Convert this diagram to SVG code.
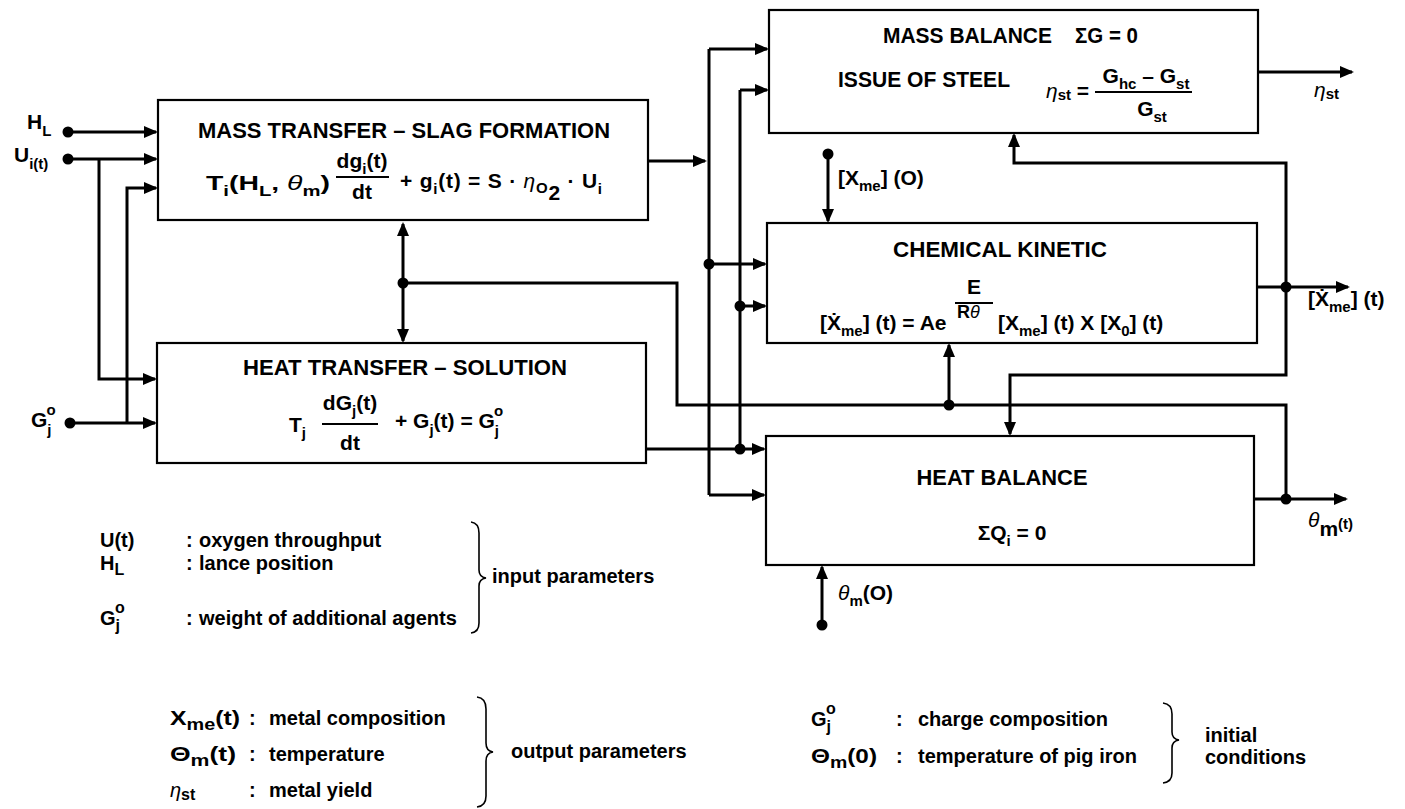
<svg xmlns="http://www.w3.org/2000/svg" width="1405" height="809" viewBox="0 0 1405 809">
<style>
.b{font-family:"Liberation Sans",Arial,sans-serif;font-weight:bold;font-size:22px;fill:#000}
.f{font-family:"Liberation Sans",Arial,sans-serif;font-weight:bold;font-size:21px;fill:#000}
.l{font-family:"Liberation Sans",Arial,sans-serif;font-weight:bold;font-size:20px;fill:#000}
.s{font-size:15px}
.ls{font-size:16px}
.g{font-style:italic;font-weight:normal}
.box{fill:#fff;stroke:#000;stroke-width:2.2}
.c{fill:none;stroke:#000;stroke-width:3}
.a{fill:none;stroke:#000;stroke-width:3;marker-end:url(#ah)}
.fr{stroke:#000;stroke-width:2}
.br{fill:none;stroke:#000;stroke-width:1.6}
</style>
<defs>
<marker id="ah" viewBox="0 0 14 12" refX="12" refY="6" markerWidth="14" markerHeight="12" markerUnits="userSpaceOnUse" orient="auto"><path d="M0,0 L14,6 L0,12 z" fill="#000"/></marker>
</defs>
<rect width="1405" height="809" fill="#fff"/>

<g id="connectors">
<path class="a" d="M68,132 H156"/>
<path class="a" d="M68,159 H156"/>
<path class="a" d="M99,159 V379 H155"/>
<path class="a" d="M70,423 H155"/>
<path class="a" d="M127,423 V188 H156"/>
<path class="a" d="M648,161 H705"/>
<path class="c" d="M709,49 V495"/>
<path class="a" d="M709,49 H767"/>
<path class="a" d="M709,264 H765"/>
<path class="a" d="M709,495 H764"/>
<path class="c" d="M740,90 V449"/>
<path class="a" d="M740,90 H767"/>
<path class="a" d="M740,306 H765"/>
<path class="a" d="M646,449 H764"/>
<path class="c" d="M1286,499 V405 H677 V283 H403"/>
<path class="a" d="M403,283 V224"/>
<path class="a" d="M403,283 V341"/>
<path class="a" d="M949,405 V345"/>
<path class="a" d="M1257,287 H1348"/>
<path class="a" d="M1286,287 V163 H1014 V135"/>
<path class="a" d="M1286,287 V375 H1010 V434"/>
<path class="a" d="M1258,72 H1352"/>
<path class="a" d="M1254,499 H1346"/>
<path class="a" d="M828,154 V221"/>
<path class="a" d="M822,625 V567"/>
<g fill="#000">
<circle cx="68" cy="132" r="5.5"/>
<circle cx="68" cy="159" r="5.5"/>
<circle cx="70" cy="423" r="5.5"/>
<circle cx="403" cy="283" r="5.5"/>
<circle cx="709" cy="264" r="5.5"/>
<circle cx="740" cy="306" r="5.5"/>
<circle cx="740" cy="449" r="5.5"/>
<circle cx="949" cy="405" r="5.5"/>
<circle cx="1286" cy="287" r="5.5"/>
<circle cx="1286" cy="499" r="5.5"/>
<circle cx="828" cy="154" r="5.5"/>
<circle cx="822" cy="625" r="5.5"/>
</g>
</g>

<g id="input-labels">
<text class="f" x="27" y="129">H<tspan class="s" dy="7">L</tspan></text>
<text class="f" x="14" y="162">U<tspan class="s" dy="7">i(t)</tspan></text>
<text class="f" x="31" y="427">G<tspan class="s" dy="8">j</tspan><tspan class="s" dx="-5" dy="-20">o</tspan></text>
</g>

<g id="mass-transfer">
<rect class="box" x="158" y="100" width="490" height="120"/>
<text class="b" x="404" y="138" text-anchor="middle" textLength="412" lengthAdjust="spacingAndGlyphs">MASS TRANSFER – SLAG FORMATION</text>
<text class="f" x="206" y="190" textLength="124" lengthAdjust="spacingAndGlyphs">T<tspan class="s" dy="6">i</tspan><tspan dy="-6">(H</tspan><tspan class="s" dy="6">L</tspan><tspan dy="-6">, </tspan><tspan class="g">θ</tspan><tspan class="s" dy="6">m</tspan><tspan dy="-6">)</tspan></text>
<text class="f" x="362" y="168" text-anchor="middle">dg<tspan class="s" dy="6">i</tspan><tspan dy="-6">(t)</tspan></text>
<line class="fr" x1="336" y1="177" x2="389" y2="177"/>
<text class="f" x="362" y="199" text-anchor="middle">dt</text>
<text class="f" x="400" y="188" textLength="202" lengthAdjust="spacing">+ g<tspan class="s" dy="6">i</tspan><tspan dy="-6">(t) = S · </tspan><tspan class="g">η</tspan><tspan class="s" dy="5">O</tspan><tspan dy="7">2</tspan><tspan dy="-12"> · U</tspan><tspan class="s" dy="6">i</tspan></text>
</g>

<g id="heat-transfer">
<rect class="box" x="157" y="343" width="489" height="120"/>
<text class="b" x="405" y="375" text-anchor="middle" textLength="324" lengthAdjust="spacingAndGlyphs">HEAT TRANSFER – SOLUTION</text>
<text class="f" x="289" y="432">T<tspan class="s" dy="6">j</tspan></text>
<text class="f" x="350" y="410" text-anchor="middle">dG<tspan class="s" dy="6">j</tspan><tspan dy="-6">(t)</tspan></text>
<line class="fr" x1="322" y1="424" x2="378" y2="424"/>
<text class="f" x="350" y="450" text-anchor="middle">dt</text>
<text class="f" x="395" y="428">+ G<tspan class="s" dy="7">j</tspan><tspan dy="-7">(t) = G</tspan><tspan class="s" dy="8">j</tspan><tspan class="s" dx="-5" dy="-20">o</tspan></text>
</g>

<g id="mass-balance">
<rect class="box" x="769" y="10" width="489" height="123"/>
<text class="b" x="883" y="43" textLength="169" lengthAdjust="spacingAndGlyphs">MASS BALANCE</text>
<text class="b" x="1075" y="43" textLength="63" lengthAdjust="spacingAndGlyphs">ΣG = 0</text>
<text class="b" x="838" y="87" textLength="172" lengthAdjust="spacingAndGlyphs">ISSUE OF STEEL</text>
<text class="f" x="1046" y="98"><tspan class="g">η</tspan><tspan class="s" dy="2">st</tspan><tspan dy="-2"> =</tspan></text>
<text class="f" x="1146" y="83" text-anchor="middle">G<tspan class="s" dy="6">hc</tspan><tspan dy="-6"> – G</tspan><tspan class="s" dy="6">st</tspan></text>
<line class="fr" x1="1095" y1="92" x2="1192" y2="92"/>
<text class="f" x="1152" y="116" text-anchor="middle">G<tspan class="s" dy="6">st</tspan></text>
</g>

<g id="chemical-kinetic">
<rect class="box" x="767" y="223" width="490" height="120"/>
<text class="b" x="1000" y="257" text-anchor="middle" textLength="214" lengthAdjust="spacingAndGlyphs">CHEMICAL KINETIC</text>
<text class="f" x="820" y="330">[Ẋ<tspan class="s" dy="6">me</tspan><tspan dy="-6">] (t) = Ae</tspan></text>
<text class="f" x="974" y="294" text-anchor="middle">E</text>
<line class="fr" x1="955" y1="303" x2="993" y2="303"/>
<text class="f" x="957" y="318" style="font-size:18px">R<tspan class="g">θ</tspan></text>
<text class="f" x="998" y="330">[X<tspan class="s" dy="6">me</tspan><tspan dy="-6">] (t) X [X</tspan><tspan class="s" dy="6">0</tspan><tspan dy="-6">] (t)</tspan></text>
</g>

<g id="heat-balance">
<rect class="box" x="766" y="436" width="488" height="129"/>
<text class="b" x="1002" y="485" text-anchor="middle" textLength="171" lengthAdjust="spacingAndGlyphs">HEAT BALANCE</text>
<text class="f" x="1012" y="540" text-anchor="middle">ΣQ<tspan class="s" dy="6">i</tspan><tspan dy="-6"> = 0</tspan></text>
</g>

<g id="output-labels">
<text class="f" x="1314" y="97"><tspan class="g">η</tspan><tspan class="s" dy="2">st</tspan></text>
<text class="f" x="1308" y="306">[Ẋ<tspan class="s" dy="6">me</tspan><tspan dy="-6">] (t)</tspan></text>
<text class="f" x="1308" y="527"><tspan class="g">θ</tspan><tspan dy="9">m</tspan><tspan class="s" dy="-7">(t)</tspan></text>
<text class="f" x="838" y="185">[X<tspan class="s" dy="6">me</tspan><tspan dy="-6">] (O)</tspan></text>
<text class="f" x="838" y="600"><tspan class="g">θ</tspan><tspan class="s" dy="6">m</tspan><tspan dy="-6">(O)</tspan></text>
</g>

<g id="legend-inputs">
<text class="l" x="100" y="547">U(t)</text>
<text class="l" x="186" y="547">:</text>
<text class="l" x="199" y="547">oxygen throughput</text>
<text class="l" x="100" y="570">H<tspan class="ls" dy="5">L</tspan></text>
<text class="l" x="186" y="570">:</text>
<text class="l" x="199" y="570">lance position</text>
<text class="l" x="100" y="625">G<tspan class="ls" dy="6">j</tspan><tspan class="ls" dx="-5" dy="-18">o</tspan></text>
<text class="l" x="186" y="625">:</text>
<text class="l" x="199" y="625">weight of additional agents</text>
<path class="br" d="M471,522 Q479,523 479,533 L479,570 Q479,577 486,578 Q479,579 479,586 L479,623 Q479,632 471,633"/>
<text class="l" x="492" y="583">input parameters</text>
</g>

<g id="legend-outputs">
<text class="l" x="170" y="725" textLength="70" lengthAdjust="spacingAndGlyphs">X<tspan class="ls" dy="5">me</tspan><tspan dy="-5">(t)</tspan></text>
<text class="l" x="249" y="725">:</text>
<text class="l" x="269" y="725">metal composition</text>
<text class="l" x="170" y="761" textLength="66" lengthAdjust="spacingAndGlyphs">Θ<tspan class="ls" dy="5">m</tspan><tspan dy="-5">(t)</tspan></text>
<text class="l" x="249" y="761">:</text>
<text class="l" x="269" y="761">temperature</text>
<text class="l" x="170" y="797"><tspan class="g">η</tspan><tspan class="ls" dy="3">st</tspan></text>
<text class="l" x="249" y="797">:</text>
<text class="l" x="269" y="797">metal yield</text>
<path class="br" d="M477,697 Q486,698 486,709 L486,743 Q486,751 493,752 Q486,753 486,761 L486,796 Q486,806 477,807"/>
<text class="l" x="511" y="758">output parameters</text>
</g>

<g id="legend-initial">
<text class="l" x="811" y="726">G<tspan class="ls" dy="6">j</tspan><tspan class="ls" dx="-5" dy="-18">o</tspan></text>
<text class="l" x="896" y="726">:</text>
<text class="l" x="918" y="726">charge composition</text>
<text class="l" x="811" y="763" textLength="66" lengthAdjust="spacingAndGlyphs">Θ<tspan class="ls" dy="5">m</tspan><tspan dy="-5">(0)</tspan></text>
<text class="l" x="896" y="763">:</text>
<text class="l" x="918" y="763">temperature of pig iron</text>
<path class="br" d="M1163,703 Q1172,704 1172,714 L1172,732 Q1172,739 1179,740 Q1172,741 1172,748 L1172,773 Q1172,782 1163,783"/>
<text class="l" x="1205" y="742">initial</text>
<text class="l" x="1205" y="764">conditions</text>
</g>
</svg>
